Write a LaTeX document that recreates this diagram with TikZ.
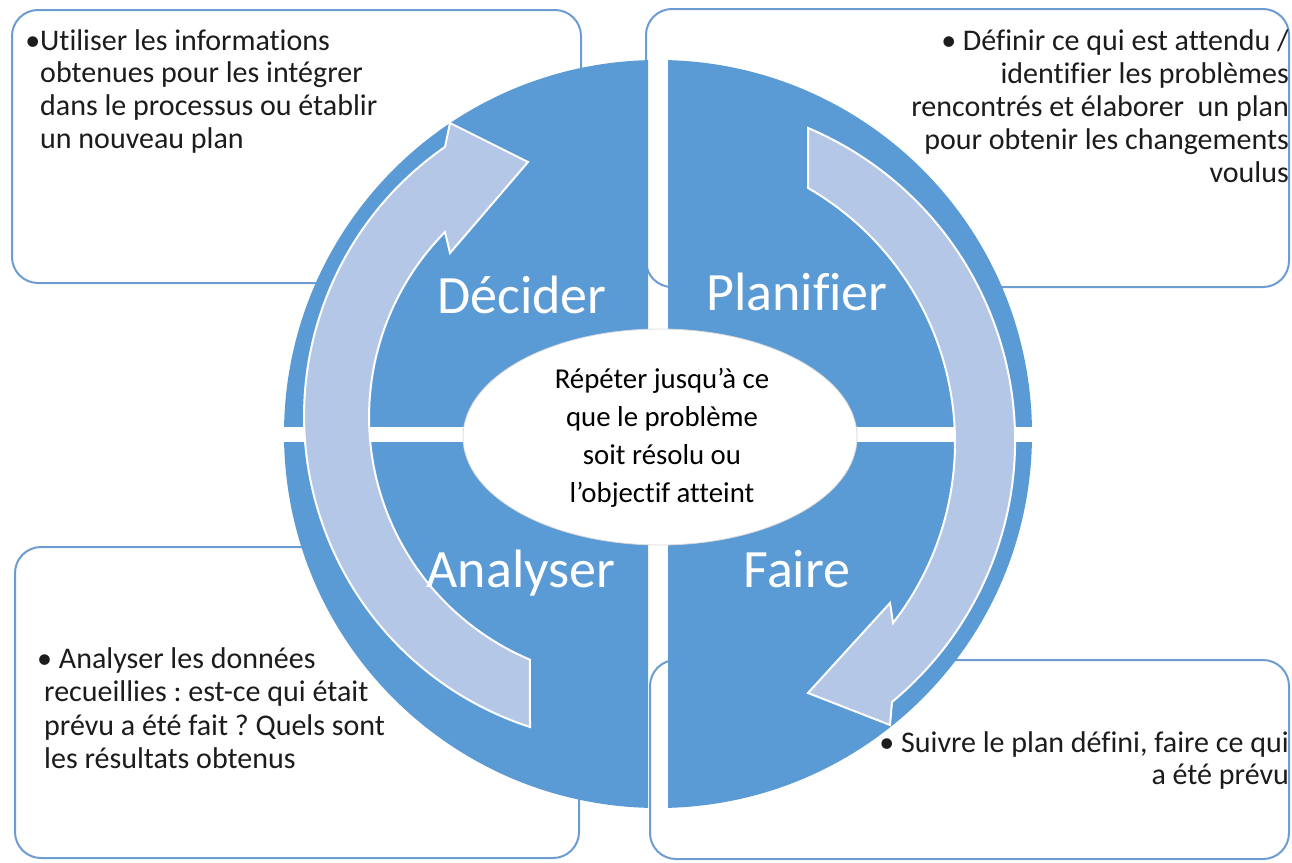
\documentclass[tikz,border=0pt]{standalone}
\usepackage{fontspec}
\setmainfont{Carlito}[Ligatures=NoCommon]
\frenchspacing
\definecolor{qblue}{RGB}{91,155,213}
\definecolor{arrowblue}{RGB}{180,199,231}
\definecolor{boxline}{RGB}{108,156,210}
\definecolor{txt}{RGB}{28,28,28}
\newcommand{\linesL}[1]{\vtop{\halign{##\hfil\cr#1\crcr}}}
\newcommand{\linesR}[1]{\vtop{\halign{\hfil##\cr#1\crcr}}}
\newcommand{\linesC}[1]{\vtop{\halign{\hfil##\hfil\cr#1\crcr}}}
\tikzset{
  infobox/.style={draw=boxline, line width=2pt, fill=white, rounded corners=26pt},
  arrowshape/.style={fill=arrowblue, draw=white, line width=2pt, line join=miter},
  qlabel/.style={text=white, font=\fontsize{54}{60}\selectfont, anchor=base, inner sep=0pt},
  boxtext/.style={text=txt, inner sep=0pt},
}
\begin{document}
\begin{tikzpicture}[x=1pt,y=-1pt]
\useasboundingbox (0,0) rectangle (1292,862);
% boxes
\draw[infobox] (12,10) rectangle (581,283);
\draw[infobox] (646,9) rectangle (1289,287);
\draw[infobox] (15,547) rectangle (579,858);
\draw[infobox] (650,660) rectangle (1289,859);
% quadrants
\begin{scope}\clip (0,0) rectangle (648,426); \fill[qblue] (658,434) circle[radius=374]; \end{scope}
\begin{scope}\clip (668,0) rectangle (1292,426); \fill[qblue] (658,434) circle[radius=374]; \end{scope}
\begin{scope}\clip (0,442) rectangle (648,862); \fill[qblue] (658,434) circle[radius=374]; \end{scope}
\begin{scope}\clip (668,442) rectangle (1292,862); \fill[qblue] (658,434) circle[radius=374]; \end{scope}
% arrows
\filldraw[arrowshape] (808,128) arc[start angle=-67.04, end angle=50.39, radius=339.4]
  -- (890,725) -- (808,693) -- (890,603) -- (893,623)
  arc[start angle=37.91, end angle=-60.02, radius=293.8] -- cycle;
\filldraw[arrowshape] (530,727) arc[start angle=108.04, end angle=235.29, radius=327.2]
  -- (450,123) -- (528,162) -- (450,253) -- (445,232)
  arc[start angle=224.63, end angle=112.91, radius=263.4] -- cycle;
% centre ellipse
\draw[fill=white, draw=white!85!black, line width=0.8pt] (660,437) ellipse[x radius=197, y radius=108];
\node[boxtext, anchor=base, text=black, font=\fontsize{28.8}{38.3}\selectfont] (centre) at (662,388)
  {\linesC{Répéter jusqu’à ce\cr que le problème\cr soit résolu ou\cr l’objectif atteint}};
% labels
\node[qlabel] (decider) at (522,313) {Décider};
\node[qlabel] (planifier) at (797,310) {Planifier};
\node[qlabel] (analyser) at (521,587) {Analyser};
\node[qlabel] (faire) at (797,587) {Faire};
% box texts
\node[boxtext, anchor=base west, font=\fontsize{30}{32.7}\selectfont] (tltext) at (40,50)
  {\linesL{\llap{•}Utiliser les informations\cr obtenues pour les intégrer\cr dans le processus ou établir\cr un nouveau plan}};
\node[boxtext, anchor=base east, font=\fontsize{30}{33}\selectfont] (trtext) at (1289,50)
  {\linesR{• Définir ce qui est attendu /\cr identifier les problèmes\cr rencontrés et élaborer\ \ un plan\cr pour obtenir les changements\cr voulus}};
\node[boxtext, anchor=base west, font=\fontsize{30}{33.5}\selectfont] (bltext) at (44,668)
  {\linesL{\hskip-7pt • Analyser les données\cr recueillies : est-ce qui était\cr prévu a été fait ? Quels sont\cr les résultats obtenus}};
\node[boxtext, anchor=base east, font=\fontsize{30}{32}\selectfont] (brtext) at (1289,752)
  {\linesR{• Suivre le plan défini, faire ce qui\cr a été prévu}};
\end{tikzpicture}
\end{document}
